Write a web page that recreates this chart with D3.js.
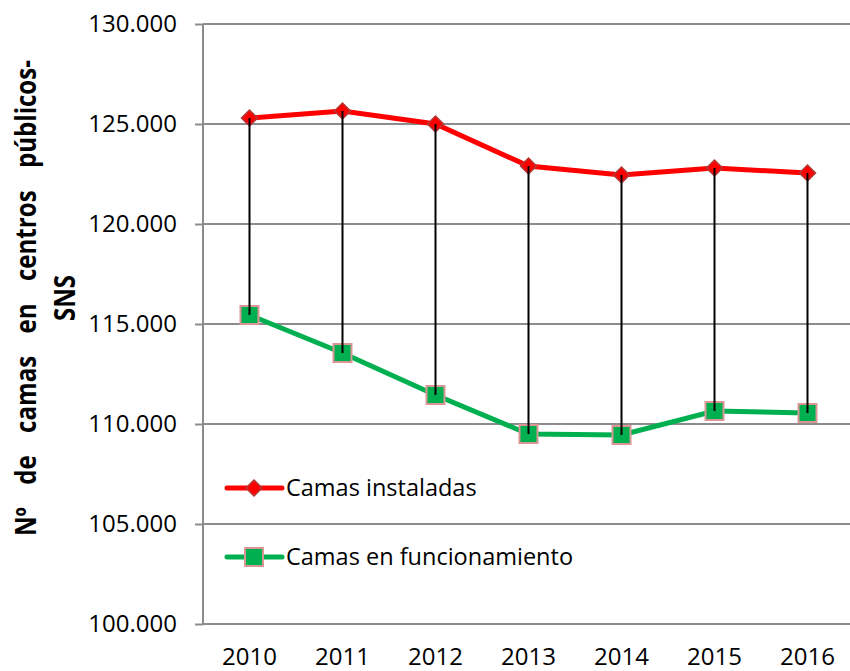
<!DOCTYPE html>
<html>
<head>
<meta charset="utf-8">
<script src="https://cdn.jsdelivr.net/npm/d3@7"></script>
<style>
  body { margin: 0; background: #fff; }
  svg { display: block; font-family: "Open Sans", sans-serif; }
</style>
</head>
<body>
<div id="chart"></div>
<script>
// Data
const years = ["2010", "2011", "2012", "2013", "2014", "2015", "2016"];
const instaladas = [125300, 125650, 125000, 122900, 122450, 122800, 122550];
const funcionamiento = [115450, 113550, 111450, 109500, 109450, 110650, 110550];
const yTicks = [100000, 105000, 110000, 115000, 120000, 125000, 130000];
const seriesNames = ["Camas instaladas", "Camas en funcionamiento"];
const titleWords = ["Nº", "de", "camas", "en", "centros", "públicos-"];

const width = 850, height = 671;
const margin = { top: 24, right: -4, bottom: 47, left: 203 };

const svg = d3.select("#chart")
  .append("svg")
    .attr("width", width)
    .attr("height", height);

const x = d3.scalePoint()
  .domain(years)
  .range([margin.left, width - margin.right])
  .padding(0.5);

const y = d3.scaleLinear()
  .domain([100000, 130000])
  .range([height - margin.bottom, margin.top]);

const fmt = v => d3.format(",.0f")(v / 1000) + ".000";

// Gridlines
svg.append("g")
  .selectAll("line")
  .data(yTicks)
  .join("line")
    .attr("x1", margin.left)
    .attr("x2", width - margin.right)
    .attr("y1", d => y(d))
    .attr("y2", d => y(d))
    .attr("stroke", "#8c8c8c")
    .attr("stroke-width", 2);

// Y axis
const yAxis = svg.append("g")
  .attr("transform", "translate(" + margin.left + ",0)")
  .call(d3.axisLeft(y).tickValues(yTicks).tickFormat(fmt).tickSize(8).tickPadding(18));
yAxis.select(".domain").attr("stroke", "#8c8c8c").attr("stroke-width", 2)
  .attr("d", "M0," + y(100000) + "V" + y(130000));
yAxis.selectAll(".tick line").attr("stroke", "#8c8c8c").attr("stroke-width", 2);
yAxis.selectAll(".tick text")
  .attr("font-size", 24)
  .attr("font-family", "Open Sans, sans-serif")
  .attr("fill", "#000");

// X axis labels
svg.append("g")
  .selectAll("text")
  .data(years)
  .join("text")
    .attr("x", d => x(d))
    .attr("y", 665)
    .attr("text-anchor", "middle")
    .attr("font-size", 24)
    .attr("fill", "#000")
    .text(d => d);

const line = d3.line()
  .x((d, i) => x(years[i]))
  .y(d => y(d));

// Red series
svg.append("path")
  .datum(instaladas)
  .attr("d", line)
  .attr("fill", "none")
  .attr("stroke", "#ff0000")
  .attr("stroke-width", 5);

// Green series
svg.append("path")
  .datum(funcionamiento)
  .attr("d", line)
  .attr("fill", "none")
  .attr("stroke", "#00b050")
  .attr("stroke-width", 5);

svg.append("g")
  .selectAll("path")
  .data(instaladas)
  .join("path")
    .attr("d", d3.symbol().type(d3.symbolSquare).size(130))
    .attr("transform", (d, i) => "translate(" + x(years[i]) + "," + y(d) + ") rotate(45)")
    .attr("fill", "#ff0000")
    .attr("stroke", "#b03a3a")
    .attr("stroke-width", 1.5);

svg.append("g")
  .selectAll("rect")
  .data(funcionamiento)
  .join("rect")
    .attr("x", (d, i) => x(years[i]) - 9)
    .attr("y", d => y(d) - 9)
    .attr("width", 18)
    .attr("height", 18)
    .attr("fill", "#00b050")
    .attr("stroke", "#d99694")
    .attr("stroke-width", 2);

// Hi-lo lines, drawn over the markers
svg.append("g")
  .selectAll("line")
  .data(years)
  .join("line")
    .attr("x1", d => x(d))
    .attr("x2", d => x(d))
    .attr("y1", (d, i) => y(instaladas[i]))
    .attr("y2", (d, i) => y(funcionamiento[i]))
    .attr("stroke", "#000")
    .attr("stroke-width", 2);

// Legend
const legend = svg.append("g");
const legY = [488, 557];
const legColors = ["#ff0000", "#00b050"];
legend.selectAll("line")
  .data(seriesNames)
  .join("line")
    .attr("x1", 227).attr("x2", 282)
    .attr("y1", (d, i) => legY[i]).attr("y2", (d, i) => legY[i])
    .attr("stroke", (d, i) => legColors[i])
    .attr("stroke-width", 5)
    .attr("stroke-linecap", "round");
legend.append("path")
  .attr("d", d3.symbol().type(d3.symbolSquare).size(130))
  .attr("transform", "translate(254," + legY[0] + ") rotate(45)")
  .attr("fill", "#ff0000")
  .attr("stroke", "#b03a3a")
  .attr("stroke-width", 1.5);
legend.append("rect")
  .attr("x", 254 - 9).attr("y", legY[1] - 9)
  .attr("width", 18).attr("height", 18)
  .attr("fill", "#00b050")
  .attr("stroke", "#d99694")
  .attr("stroke-width", 2);
legend.selectAll("text")
  .data(seriesNames)
  .join("text")
    .attr("x", 286)
    .attr("y", (d, i) => legY[i] + 8)
    .attr("font-size", 23.5)
    .attr("fill", "#000")
    .text(d => d);

// Y axis title: first line justified, words placed one by one,
// glyphs squeezed a little to get the narrow look of the original
const cy = 298, titleLen = 476, squeeze = 0.86;
const title = svg.append("g")
  .attr("transform", "translate(36," + cy + ") rotate(-90) scale(" + squeeze + ",1)")
  .attr("font-size", 28)
  .attr("font-weight", "bold")
  .attr("fill", "#000");
const wordNodes = title.selectAll("text")
  .data(titleWords)
  .join("text")
    .text(d => d);
const widths = wordNodes.nodes().map(n => n.getComputedTextLength());
const localLen = titleLen / squeeze;
const gap = (localLen - d3.sum(widths)) / (titleWords.length - 1);
let pos = -localLen / 2;
wordNodes.attr("x", (d, i) => {
  const p = pos;
  pos += widths[i] + gap;
  return p;
});
svg.append("text")
  .attr("transform", "translate(75," + cy + ") rotate(-90) scale(" + squeeze + ",1)")
  .attr("text-anchor", "middle")
  .attr("font-size", 28)
  .attr("font-weight", "bold")
  .attr("fill", "#000")
  .text("SNS");
</script>
</body>
</html>
